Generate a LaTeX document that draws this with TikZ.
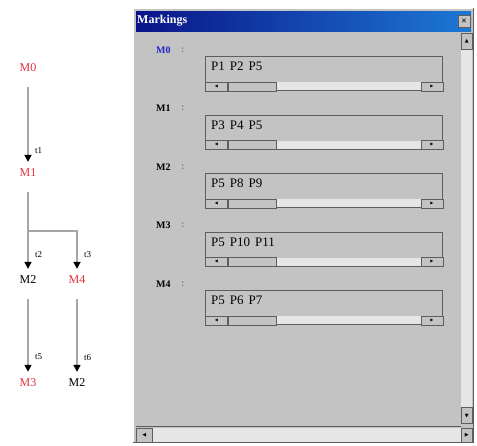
\documentclass[tikz,border=0pt]{standalone}
\usepackage{fontspec}
\setmainfont{Liberation Serif}
\newfontfamily\symfont{DejaVu Sans}
\usetikzlibrary{arrows.meta, positioning}

\definecolor{wingray}{HTML}{C3C3C3}
\definecolor{winlight}{HTML}{E6E6E6}
\definecolor{windark}{HTML}{5E5E5E}
\definecolor{titleblue}{HTML}{0A1488}
\definecolor{titlelight}{HTML}{1C78D4}
\definecolor{markred}{HTML}{E03440}
\definecolor{markblue}{HTML}{2424C8}

\begin{document}
\begin{tikzpicture}[
  x=1pt, y=-1pt,
  mlabel/.style={font=\fontsize{12}{12}\selectfont, inner sep=1pt},
  redlabel/.style={mlabel, text=markred},
  tlabel/.style={font=\fontsize{9}{9}\selectfont, inner sep=1pt, anchor=west},
  flow/.style={draw=gray!70, line width=1.6pt, shorten <=14pt, shorten >=6pt,
    -{Triangle[length=7pt, width=7pt, color=black]}},
  rowlab/.style={font=\bfseries\fontsize{10}{10}\selectfont, inner sep=0pt, anchor=west},
  pbox/.style={rectangle, draw=windark, line width=1.2pt, fill=wingray, minimum width=237pt, minimum height=34pt, inner sep=0pt, anchor=north west},
  ptext/.style={font=\fontsize{13}{13}\selectfont, execute at begin node={\spaceskip=5pt\relax}, inner xsep=6pt, inner ysep=6pt, anchor=north west},
  track/.style={rectangle, fill=winlight, minimum width=237pt, minimum height=8pt, inner sep=0pt},
  sbtn/.style={rectangle, draw=windark, line width=0.6pt, fill=wingray, minimum width=22pt, minimum height=9pt, inner sep=0pt, font=\symfont\fontsize{4}{4}\selectfont},
  thumb/.style={sbtn, minimum width=48pt},
  winbtn/.style={rectangle, draw=windark, line width=0.6pt, fill=wingray, inner sep=0pt, font=\symfont\fontsize{5}{5}\selectfont},
]
\useasboundingbox[fill=white] (0,0) rectangle (477,445);

% marking graph
\node[redlabel] (m0) at (28,68) {M0};
\node[redlabel] (m1) at (28,173) {M1};
\node[mlabel] (m2) at (28,280) {M2};
\node[redlabel] (m4) at (77,280) {M4};
\node[redlabel] (m3) at (28,383) {M3};
\node[mlabel] (m2b) at (77,383) {M2};
\coordinate (br) at (28,231);

\draw[flow] (m0) -- (m1);
\draw[flow] (m1) -- (m2);
\draw[flow, shorten <=0pt] (br) -| (m4);
\draw[flow] (m2) -- (m3);
\draw[flow] (m4) -- (m2b);

\node[tlabel] (t1) at (34,151) {t1};
\node[tlabel] (t2) at (34,255) {t2};
\node[tlabel] (t3) at (83,255) {t3};
\node[tlabel] (t5) at (34,357) {t5};
\node[tlabel] (t6) at (83,358) {t6};

% window
\fill[wingray] (133,8) rectangle (474,443);
\draw[white, line width=1pt] (133.5,443) -- (133.5,8.5) -- (474,8.5);
\draw[windark, line width=1pt] (133,442.5) -- (473.5,442.5) -- (473.5,8);
\shade[left color=titleblue, right color=titlelight] (136,11) rectangle (471,31);
\node[font=\bfseries\fontsize{12}{12}\selectfont, text=white, anchor=west, inner sep=1pt] (title) at (136,21) {Markings};
\node[winbtn, minimum width=12pt, minimum height=12pt, font=\symfont\bfseries\fontsize{7}{7}\selectfont] (close) at (464,21) {✕};

% scroll bars of the window
\fill[winlight] (461,33) rectangle (472,424);
\fill[winlight] (136,428) rectangle (472,442);
\draw[windark, line width=0.8pt] (136,426.5) -- (461,426.5);
\node[winbtn, minimum width=11pt, minimum height=16pt, anchor=north west] (vup) at (461,33) {▲};
\node[winbtn, minimum width=11pt, minimum height=16pt, anchor=south west] (vdown) at (461,424) {▼};
\node[winbtn, minimum width=16pt, minimum height=14pt, anchor=north west] (hleft) at (136,428) {◀};
\node[winbtn, minimum width=11pt, minimum height=14pt, anchor=north west] (hright) at (461,428) {▶};

% markings
\foreach \i/\lab/\txt/\col in {0/M0/{P1 P2 P5}/markblue, 1/M1/{P3 P4 P5}/black, 2/M2/{P5 P8 P9}/black, 3/M3/{P5 P10 P11}/black, 4/M4/{P5 P6 P7}/black} {
  \pgfmathsetmacro\rowtop{56+58.5*\i}
  \node[rowlab, text=\col] (lab\i) at (156,\rowtop-6) {\lab};
  \node[rowlab, text=gray, right=10pt of lab\i] (col\i) {:};
  \node[pbox] (box\i) at (205,\rowtop) {};
  \node[ptext] (txt\i) at (box\i.north west) {\txt};
  \node[track, anchor=south west] (trk\i) at ([shift={(0.6pt,0.6pt)}]box\i.south west) {};
  \node[sbtn, anchor=south west] (lb\i) at (box\i.south west) {◀};
  \node[thumb, anchor=south west] (th\i) at (lb\i.south east) {};
  \node[sbtn, anchor=south east] (rb\i) at (box\i.south east) {▶};
}
\end{tikzpicture}
\end{document}
